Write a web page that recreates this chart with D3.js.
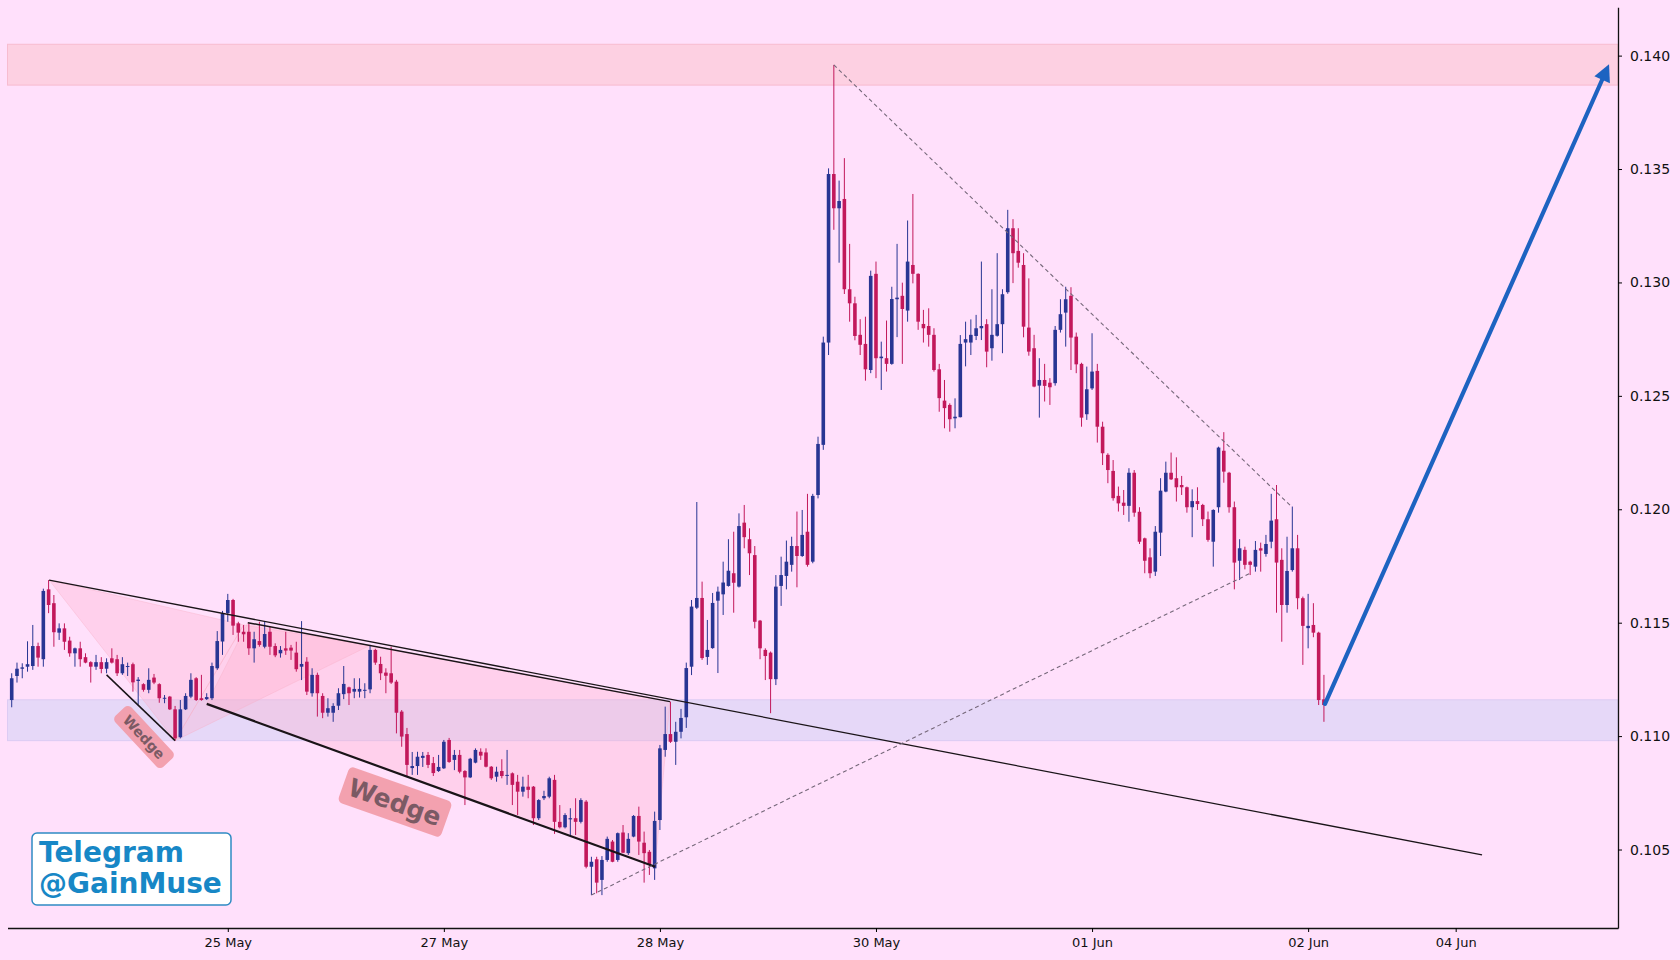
<!DOCTYPE html>
<html>
<head>
<meta charset="utf-8">
<script src="https://cdn.jsdelivr.net/npm/d3@7"></script>
<style>
  body { margin: 0; background: #ffe0fb; }
  svg { display: block; }
</style>
</head>
<body>
<div id="chart"></div>
<script>
// candle data, index based (one entry per candle)
const opens = [
0.11159,0.11265,0.11297,0.11306,0.11309,0.11397,0.11339,0.11647,0.11586,0.11456,
0.11475,0.11421,0.11365,0.11387,0.11348,0.11326,0.11306,0.11326,0.11297,0.11343,
0.11339,0.11277,0.11306,0.11317,0.11243,0.11229,0.11204,0.11258,0.11229,0.11165,
0.11174,0.11118,0.10995,0.11118,0.11174,0.11255,0.11167,0.11163,0.11167,0.11299,
0.11417,0.11542,0.11600,0.11497,0.11460,0.11460,0.11387,0.11419,0.11394,0.11460,
0.11397,0.11365,0.11387,0.11390,0.11368,0.11306,0.11328,0.11189,0.11270,0.11177,
0.11103,0.11103,0.11134,0.11185,0.11215,0.11196,0.11196,0.11201,0.11206,0.11380,
0.11318,0.11280,0.11277,0.11240,0.11108,0.11009,0.10859,0.10868,0.10904,0.10917,
0.10881,0.10846,0.10858,0.10983,0.10895,0.10917,0.10846,0.10818,0.10883,0.10931,
0.10928,0.10865,0.10821,0.10846,0.10825,0.10836,0.10799,0.10755,0.10777,0.10777,
0.10638,0.10726,0.10733,0.10807,0.10622,0.10598,0.10633,0.10638,0.10622,0.10711,
0.10424,0.10457,0.10366,0.10454,0.10535,0.10454,0.10575,0.10484,0.10557,0.10648,
0.10530,0.10490,0.10417,0.10630,0.10939,0.11009,0.10975,0.11019,0.11083,0.11306,
0.11566,0.11609,0.11349,0.11388,0.11597,0.11625,0.11662,0.11718,0.11659,0.11941,
0.11868,0.11798,0.11509,0.11380,0.11368,0.11251,0.11662,0.11706,0.11755,0.11838,
0.11794,0.11901,0.11769,0.12063,0.12284,0.12735,0.13478,0.13327,0.13368,0.12970,
0.12908,0.12769,0.12729,0.12614,0.13038,0.12666,0.12666,0.12641,0.12926,0.12941,
0.12876,0.13077,0.13038,0.12817,0.12808,0.12769,0.12617,0.12479,0.12460,0.12401,
0.12406,0.12735,0.12735,0.12764,0.12798,0.12816,0.12710,0.12765,0.12816,0.12957,
0.13239,0.13139,0.13077,0.12801,0.12710,0.12545,0.12570,0.12558,0.12556,0.12791,
0.12867,0.12941,0.12761,0.12641,0.12419,0.12533,0.12610,0.12364,0.12240,0.12169,
0.12059,0.12029,0.12015,0.12161,0.11989,0.11872,0.11788,0.11725,0.11897,0.12078,
0.12161,0.12137,0.12107,0.12097,0.12009,0.12036,0.12019,0.11956,0.11857,0.12009,
0.12258,0.12161,0.12009,0.11773,0.11821,0.11769,0.11747,0.11828,0.11803,0.11857,
0.11956,0.11777,0.11578,0.11732,0.11828,0.11608,0.11476,0.11490,0.11456,0.11162];

const highs = [
0.11277,0.11324,0.11321,0.11418,0.11490,0.11412,0.11650,0.11688,0.11622,0.11497,
0.11497,0.11438,0.11390,0.11416,0.11365,0.11330,0.11358,0.11348,0.11343,0.11387,
0.11358,0.11348,0.11324,0.11324,0.11260,0.11233,0.11299,0.11274,0.11233,0.11181,
0.11177,0.11133,0.11159,0.11189,0.11277,0.11260,0.11270,0.11189,0.11324,0.11463,
0.11552,0.11627,0.11605,0.11504,0.11490,0.11497,0.11460,0.11504,0.11504,0.11483,
0.11409,0.11397,0.11460,0.11402,0.11416,0.11507,0.11348,0.11299,0.11280,0.11189,
0.11167,0.11145,0.11211,0.11309,0.11218,0.11255,0.11255,0.11233,0.11402,0.11385,
0.11350,0.11299,0.11394,0.11248,0.11115,0.11036,0.10930,0.10931,0.10930,0.10930,
0.10908,0.10917,0.10983,0.10992,0.10939,0.10939,0.10850,0.10904,0.10946,0.10946,
0.10946,0.10868,0.10865,0.10898,0.10939,0.10840,0.10829,0.10821,0.10829,0.10780,
0.10722,0.10759,0.10821,0.10829,0.10696,0.10660,0.10682,0.10726,0.10726,0.10718,
0.10468,0.10468,0.10471,0.10557,0.10542,0.10575,0.10608,0.10572,0.10652,0.10689,
0.10579,0.10498,0.10667,0.10961,0.11130,0.11152,0.11063,0.11120,0.11324,0.11600,
0.12032,0.11681,0.11512,0.11631,0.11659,0.11769,0.11868,0.11901,0.11982,0.12019,
0.11916,0.11838,0.11512,0.11387,0.11373,0.11710,0.11791,0.11862,0.11879,0.11990,
0.11997,0.12068,0.12068,0.12320,0.12761,0.13503,0.13959,0.13449,0.13548,0.13170,
0.12937,0.12838,0.12849,0.13052,0.13092,0.12739,0.12832,0.12981,0.13170,0.12999,
0.13273,0.13390,0.13040,0.12879,0.12886,0.12798,0.12641,0.12570,0.12467,0.12489,
0.12768,0.12827,0.12837,0.12857,0.13092,0.12838,0.12970,0.13129,0.12970,0.13320,
0.13279,0.13239,0.13129,0.13018,0.12769,0.12666,0.12641,0.12578,0.12808,0.12926,
0.12981,0.12979,0.12779,0.12646,0.12629,0.12776,0.12641,0.12386,0.12247,0.12217,
0.12100,0.12085,0.12181,0.12173,0.12009,0.11875,0.11828,0.11926,0.12137,0.12210,
0.12250,0.12229,0.12147,0.12100,0.12088,0.12097,0.12024,0.11990,0.12000,0.12276,
0.12340,0.12165,0.12034,0.11868,0.11835,0.11773,0.11860,0.11853,0.11887,0.12068,
0.12107,0.11828,0.11879,0.12012,0.11887,0.11615,0.11627,0.11586,0.11460,0.11270];

const lows = [
0.11127,0.11236,0.11255,0.11284,0.11292,0.11306,0.11306,0.11542,0.11394,0.11424,
0.11380,0.11350,0.11306,0.11306,0.11321,0.11236,0.11292,0.11277,0.11277,0.11320,
0.11265,0.11270,0.11265,0.11196,0.11138,0.11196,0.11189,0.11229,0.11147,0.11145,
0.11115,0.10980,0.10990,0.11115,0.11167,0.11155,0.11156,0.11159,0.11159,0.11292,
0.11358,0.11504,0.11446,0.11416,0.11416,0.11358,0.11324,0.11394,0.11387,0.11358,
0.11348,0.11346,0.11358,0.11336,0.11284,0.11247,0.11181,0.11174,0.11086,0.11079,
0.11086,0.11063,0.11115,0.11163,0.11137,0.11167,0.11170,0.11167,0.11189,0.11314,
0.11247,0.11189,0.11230,0.11012,0.10953,0.10820,0.10829,0.10829,0.10864,0.10859,
0.10824,0.10842,0.10855,0.10882,0.10850,0.10836,0.10696,0.10815,0.10880,0.10895,
0.10862,0.10807,0.10799,0.10814,0.10785,0.10696,0.10652,0.10733,0.10726,0.10608,
0.10630,0.10718,0.10726,0.10569,0.10593,0.10593,0.10564,0.10564,0.10615,0.10417,
0.10299,0.10307,0.10299,0.10446,0.10444,0.10446,0.10484,0.10476,0.10554,0.10476,
0.10354,0.10388,0.10366,0.10586,0.10909,0.10970,0.10873,0.10990,0.11036,0.11269,
0.11560,0.11336,0.11314,0.11385,0.11278,0.11534,0.11659,0.11544,0.11655,0.11828,
0.11710,0.11475,0.11339,0.11247,0.11101,0.11225,0.11574,0.11647,0.11725,0.11656,
0.11790,0.11747,0.11762,0.12048,0.12262,0.12680,0.13232,0.13087,0.12949,0.12827,
0.12745,0.12680,0.12567,0.12600,0.12578,0.12526,0.12607,0.12637,0.12759,0.12641,
0.12827,0.12996,0.12791,0.12735,0.12717,0.12607,0.12430,0.12357,0.12342,0.12357,
0.12405,0.12630,0.12680,0.12746,0.12746,0.12626,0.12655,0.12761,0.12688,0.12950,
0.12997,0.13065,0.12758,0.12677,0.12538,0.12404,0.12475,0.12460,0.12545,0.12779,
0.12717,0.12614,0.12600,0.12364,0.12394,0.12526,0.12294,0.12195,0.12115,0.12038,
0.11990,0.11975,0.11945,0.11967,0.11847,0.11718,0.11696,0.11706,0.11794,0.12075,
0.12129,0.12034,0.12063,0.11985,0.11877,0.11997,0.11926,0.11857,0.11747,0.11985,
0.12117,0.11985,0.11647,0.11688,0.11735,0.11710,0.11725,0.11725,0.11791,0.11828,
0.11544,0.11416,0.11544,0.11725,0.11559,0.11314,0.11387,0.11436,0.11137,0.11063];

const closes = [
0.11255,0.11297,0.11303,0.11317,0.11397,0.11346,0.11640,0.11578,0.11458,0.11475,
0.11416,0.11365,0.11387,0.11339,0.11324,0.11306,0.11326,0.11296,0.11326,0.11324,
0.11277,0.11317,0.11309,0.11237,0.11249,0.11204,0.11248,0.11236,0.11167,0.11169,
0.11118,0.10990,0.11118,0.11177,0.11248,0.11159,0.11159,0.11172,0.11309,0.11419,
0.11541,0.11600,0.11487,0.11456,0.11449,0.11387,0.11427,0.11402,0.11450,0.11394,
0.11356,0.11380,0.11377,0.11377,0.11295,0.11318,0.11196,0.11270,0.11189,0.11103,
0.11123,0.11133,0.11189,0.11230,0.11189,0.11208,0.11208,0.11204,0.11380,0.11324,
0.11277,0.11266,0.11236,0.11103,0.10998,0.10873,0.10868,0.10909,0.10913,0.10873,
0.10837,0.10864,0.10975,0.10886,0.10917,0.10843,0.10818,0.10900,0.10939,0.10914,
0.10865,0.10814,0.10843,0.10824,0.10829,0.10785,0.10755,0.10777,0.10763,0.10638,
0.10718,0.10736,0.10814,0.10622,0.10598,0.10652,0.10638,0.10622,0.10718,0.10424,
0.10446,0.10354,0.10454,0.10547,0.10446,0.10572,0.10486,0.10547,0.10648,0.10535,
0.10484,0.10436,0.10626,0.10946,0.11009,0.10975,0.11019,0.11080,0.11300,0.11571,
0.11609,0.11344,0.11380,0.11587,0.11637,0.11677,0.11729,0.11676,0.11926,0.11877,
0.11806,0.11504,0.11387,0.11353,0.11251,0.11659,0.11710,0.11769,0.11838,0.11794,
0.11887,0.11755,0.12059,0.12288,0.12735,0.13478,0.13327,0.13359,0.12970,0.12908,
0.12764,0.12725,0.12617,0.13029,0.12666,0.12673,0.12641,0.12927,0.12933,0.12883,
0.13092,0.13038,0.12827,0.12798,0.12769,0.12614,0.12490,0.12446,0.12397,0.12408,
0.12729,0.12750,0.12769,0.12798,0.12808,0.12695,0.12769,0.12816,0.12948,0.13239,
0.13129,0.13087,0.12805,0.12695,0.12541,0.12570,0.12544,0.12538,0.12791,0.12860,
0.12926,0.12757,0.12639,0.12404,0.12529,0.12607,0.12364,0.12247,0.12173,0.12049,
0.12026,0.12015,0.12161,0.11985,0.11857,0.11773,0.11718,0.11901,0.12082,0.12161,
0.12132,0.12097,0.12097,0.12009,0.12036,0.12023,0.11956,0.11865,0.11997,0.12272,
0.12166,0.12009,0.11765,0.11828,0.11755,0.11755,0.11821,0.11818,0.11847,0.11950,
0.11765,0.11578,0.11728,0.11828,0.11608,0.11486,0.11486,0.11456,0.11159,0.11137];

// axis ticks
const priceTicks = [0.105, 0.110, 0.115, 0.120, 0.125, 0.130, 0.135, 0.140];
const dateTickIdx = [41, 82, 123, 164, 205, 246, 274];
const dateTickLabels = ["25 May", "27 May", "28 May", "30 May", "01 Jun", "02 Jun", "04 Jun"];

// zones (price bands)
const resistanceZone = [0.1387, 0.1405];
const supportZone = [0.1098, 0.1116];

// drawn lines: [index, price] pairs
const solidLines = [
  [[7.1, 0.11688], [279, 0.10476]],
  [[44.8, 0.11500], [124.9, 0.11152]],
  [[37, 0.11142], [122.1, 0.10424]],
  [[18, 0.11270], [31, 0.10980]]
];
const solidWidths = [1.3, 1.5, 2.2, 1.5];
const dashedLines = [
  [[156, 0.13959], [243, 0.12008]],
  [[110, 0.10299], [235.3, 0.11721]]
];
const arrowLine = [[249.2, 0.11142], [303.1, 0.13962]];

// wedge shading polygons
const shadePolys = [
  [[7.1, 0.11688], [31, 0.10980], [44, 0.11490]],
  [[31, 0.10980], [44, 0.11490], [68, 0.11400]],
  [[37, 0.11142], [44.8, 0.11500], [124.9, 0.11152], [122.1, 0.10424]]
];

const width = 1680, height = 960;
const svg = d3.select("#chart").append("svg")
  .attr("width", width).attr("height", height)
  .style("font-family", "'DejaVu Sans', sans-serif");

svg.append("rect").attr("width", width).attr("height", height).attr("fill", "#ffe0fb");

const x = d3.scaleLinear().domain([-0.8, 304.8]).range([7.5, 1618]);
const y = d3.scaleLinear().domain([0.10154, 0.14213]).range([928, 7.3]);

// zones
svg.append("rect")
  .attr("x", x(-0.8)).attr("width", x(304.8) - x(-0.8))
  .attr("y", y(resistanceZone[1])).attr("height", y(resistanceZone[0]) - y(resistanceZone[1]))
  .attr("fill", "#fdd0e2").attr("stroke", "#f7bcd0").attr("stroke-width", 1);
svg.append("rect")
  .attr("x", x(-0.8)).attr("width", x(304.8) - x(-0.8))
  .attr("y", y(supportZone[1])).attr("height", y(supportZone[0]) - y(supportZone[1]))
  .attr("fill", "#e6d8f8").attr("stroke", "#dccbf3").attr("stroke-width", 1);

// shading
const poly = d3.line().x(d => x(d[0])).y(d => y(d[1]));
svg.selectAll(".shade").data(shadePolys).enter().append("path")
  .attr("d", d => poly(d) + "Z")
  .attr("fill", "#ffaac4").attr("fill-opacity", 0.28)
  .attr("stroke", "#f7b0c6").attr("stroke-opacity", 0.4);

// candles
const idx = d3.range(opens.length);
const upCol = "#283593", downCol = "#c2185b";
const bw = 3.6;
const candle = svg.append("g").selectAll("g").data(idx).enter().append("g");
candle.append("line")
  .attr("x1", i => x(i)).attr("x2", i => x(i))
  .attr("y1", i => y(highs[i])).attr("y2", i => y(lows[i]))
  .attr("stroke", i => closes[i] >= opens[i] ? upCol : downCol)
  .attr("stroke-width", 1);
candle.append("rect")
  .attr("x", i => x(i) - bw / 2).attr("width", bw)
  .attr("y", i => y(Math.max(opens[i], closes[i])))
  .attr("height", i => Math.max(1, Math.abs(y(opens[i]) - y(closes[i]))))
  .attr("fill", i => closes[i] >= opens[i] ? upCol : downCol);

// trend lines
svg.selectAll(".tl").data(solidLines).enter().append("path")
  .attr("d", d => poly(d))
  .attr("stroke", "#1a1418").attr("fill", "none")
  .attr("stroke-width", (d, i) => solidWidths[i]);
svg.selectAll(".dl").data(dashedLines).enter().append("path")
  .attr("d", d => poly(d))
  .attr("stroke", "#76687a").attr("fill", "none")
  .attr("stroke-width", 1.1).attr("stroke-dasharray", "4,3");

// target arrow
const ax0 = x(arrowLine[0][0]), ay0 = y(arrowLine[0][1]);
const ax1 = x(arrowLine[1][0]), ay1 = y(arrowLine[1][1]);
const ang = Math.atan2(ay1 - ay0, ax1 - ax0);
const headLen = 17, headW = 8.5;
const bx = ax1 - headLen * Math.cos(ang), by = ay1 - headLen * Math.sin(ang);
svg.append("line")
  .attr("x1", ax0).attr("y1", ay0).attr("x2", bx).attr("y2", by)
  .attr("stroke", "#1d63c1").attr("stroke-width", 4.2).attr("stroke-linecap", "round");
svg.append("path")
  .attr("d", `M${ax1},${ay1}L${bx + headW * Math.sin(ang)},${by - headW * Math.cos(ang)}L${bx - headW * Math.sin(ang)},${by + headW * Math.cos(ang)}Z`)
  .attr("fill", "#1d63c1");

// wedge labels
function wedgeLabel(cx, cy, rot, w, h, fs) {
  const g = svg.append("g").attr("transform", `translate(${cx},${cy}) rotate(${rot})`);
  g.append("rect").attr("x", -w / 2).attr("y", -h / 2).attr("width", w).attr("height", h)
    .attr("rx", 5).attr("fill", "#f29aa6").attr("fill-opacity", 0.9);
  g.append("text").attr("text-anchor", "middle").attr("dy", "0.36em")
    .attr("font-size", fs).attr("font-weight", "bold").attr("fill", "#7b5a64")
    .text("Wedge");
}
wedgeLabel(144, 737, 47, 70, 22, 14);
wedgeLabel(395, 802, 19.4, 109, 38, 25);

// axes
const yAxis = svg.append("g").attr("transform", `translate(${x(304.8)},0)`)
  .call(d3.axisRight(y).tickValues(priceTicks).tickFormat(d3.format(".3f"))
    .tickSize(4).tickSizeOuter(0).tickPadding(8));
yAxis.selectAll("text").attr("font-size", 14).attr("fill", "#111").attr("font-family", "'DejaVu Sans'");
yAxis.select(".domain").attr("stroke", "#111").attr("stroke-width", 1.3);

const xAxis = svg.append("g").attr("transform", `translate(0,${y(0.10154)})`)
  .call(d3.axisBottom(x).tickValues(dateTickIdx).tickFormat((d, i) => dateTickLabels[i])
    .tickSize(4).tickSizeOuter(0).tickPadding(6));
xAxis.selectAll("text").attr("font-size", 13).attr("fill", "#111").attr("font-family", "'DejaVu Sans'");
xAxis.select(".domain").attr("stroke", "#111").attr("stroke-width", 1.3);

// watermark box
svg.append("rect").attr("x", 32).attr("y", 833).attr("width", 199).attr("height", 72)
  .attr("rx", 5).attr("fill", "#ffffff").attr("stroke", "#2f8bc3").attr("stroke-width", 1.5);
svg.append("text").attr("x", 39).attr("y", 862).attr("font-size", 28).attr("font-weight", "bold")
  .attr("fill", "#1787c6").text("Telegram");
svg.append("text").attr("x", 39).attr("y", 893).attr("font-size", 28).attr("font-weight", "bold")
  .attr("fill", "#1787c6").text("@GainMuse");
</script>
</body>
</html>
